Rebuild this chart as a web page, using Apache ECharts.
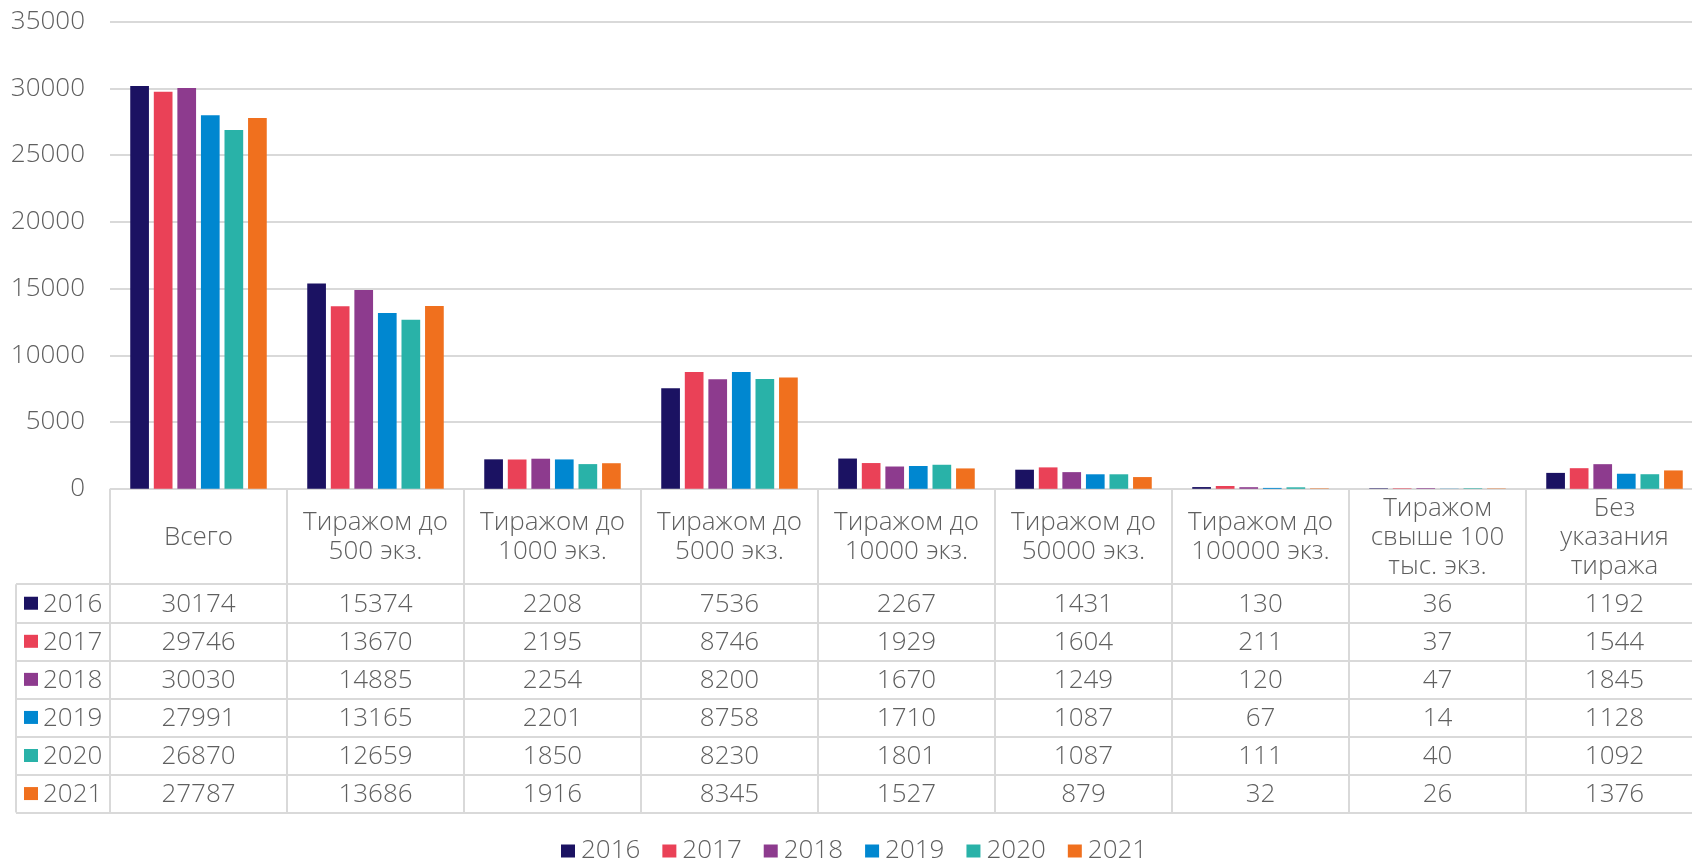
<!DOCTYPE html>
<html>
<head>
<meta charset="utf-8">
<script src="https://cdn.jsdelivr.net/npm/echarts@6/dist/echarts.min.js"></script>
<style>
html,body{margin:0;padding:0;background:#fff;}
#chart{width:1692px;height:859px;}
</style>
</head>
<body>
<div id="chart"></div>
<script>
// ---- data ----
const categories = [
  'Всего',
  'Тиражом до\n500 экз.',
  'Тиражом до\n1000 экз.',
  'Тиражом до\n5000 экз.',
  'Тиражом до\n10000 экз.',
  'Тиражом до\n50000 экз.',
  'Тиражом до\n100000 экз.',
  'Тиражом\nсвыше 100\nтыс. экз.',
  'Без\nуказания\nтиража'
];
const years = ['2016', '2017', '2018', '2019', '2020', '2021'];
const v2016 = [30174, 15374, 2208, 7536, 2267, 1431, 130, 36, 1192];
const v2017 = [29746, 13670, 2195, 8746, 1929, 1604, 211, 37, 1544];
const v2018 = [30030, 14885, 2254, 8200, 1670, 1249, 120, 47, 1845];
const v2019 = [27991, 13165, 2201, 8758, 1710, 1087, 67, 14, 1128];
const v2020 = [26870, 12659, 1850, 8230, 1801, 1087, 111, 40, 1092];
const v2021 = [27787, 13686, 1916, 8345, 1527, 879, 32, 26, 1376];
const yTicks = [0, 5000, 10000, 15000, 20000, 25000, 30000, 35000];

const seriesValues = [v2016, v2017, v2018, v2019, v2020, v2021];
const colors = ['#1B1262', '#EA4157', '#8D3B8E', '#0087D0', '#29B2A8', '#F0701E'];

const FONT = '"Open Sans", "DejaVu Sans", sans-serif';
const FS = 26;
const TXT = '#5f5f5f';
const LINE = '#D9D9D9';

const chartLeft = 110, chartWidth = 1593;
const plotTop = 21.6, zeroY = 488.8, headerBottom = 584.2, tableBottom = 812.6;

const cells = [];
seriesValues.forEach((arr, r) => arr.forEach((v, c) => cells.push([c, r, v])));

const rich = { t: { fontFamily: FONT, fontWeight: 300, fontSize: FS, color: TXT, padding: [2, 0, 0, 5] } };
colors.forEach((c, i) => { rich['s' + i] = { width: 14, height: 13, backgroundColor: c }; });

const gridBase = { outerBoundsMode: 'none', containLabel: false };

const chart = echarts.init(document.getElementById('chart'), null, { renderer: 'canvas' });
const option = {
  animation: false,
  backgroundColor: '#fff',
  textStyle: { fontFamily: FONT },
  grid: [
    Object.assign({ left: chartLeft, top: plotTop, width: chartWidth, height: zeroY - plotTop }, gridBase),
    Object.assign({ left: chartLeft, top: zeroY, width: chartWidth, height: headerBottom - zeroY }, gridBase),
    Object.assign({ left: chartLeft, top: headerBottom, width: chartWidth, height: tableBottom - headerBottom }, gridBase),
    Object.assign({ left: 16, top: headerBottom, width: chartLeft - 16, height: tableBottom - headerBottom }, gridBase)
  ],
  xAxis: [
    { gridIndex: 0, type: 'category', data: categories,
      axisLine: { show: false }, axisTick: { show: false },
      axisLabel: { interval: 0, margin: (headerBottom - zeroY) / 2 + 1, verticalAlign: 'middle',
        fontFamily: FONT, fontWeight: 300, fontSize: FS, lineHeight: 29, color: TXT, align: 'center' } },
    { gridIndex: 1, type: 'category', data: categories, axisLine: { show: false }, axisTick: { show: false }, axisLabel: { show: false },
      splitLine: { show: true, interval: 0, lineStyle: { color: LINE, width: 2 } } },
    { gridIndex: 2, type: 'category', data: categories, axisLine: { show: false }, axisTick: { show: false }, axisLabel: { show: false },
      splitLine: { show: true, interval: 0, lineStyle: { color: LINE, width: 2 } } },
    { gridIndex: 3, type: 'category', data: [''], axisLine: { show: false }, axisTick: { show: false }, axisLabel: { show: false },
      splitLine: { show: true, interval: 0, lineStyle: { color: LINE, width: 2 } } }
  ],
  yAxis: [
    { gridIndex: 0, type: 'value', min: yTicks[0], max: yTicks[yTicks.length - 1], interval: yTicks[1] - yTicks[0],
      axisLine: { show: false }, axisTick: { show: false },
      axisLabel: { margin: 25, fontFamily: FONT, fontWeight: 300, fontSize: FS, color: TXT, formatter: v => String(v) },
      splitLine: { show: true, lineStyle: { color: LINE, width: 2 } } },
    { gridIndex: 1, type: 'category', data: [''], axisLine: { show: false }, axisTick: { show: false }, axisLabel: { show: false },
      splitLine: { show: true, interval: 0, lineStyle: { color: LINE, width: 2 } } },
    { gridIndex: 2, type: 'category', data: years, inverse: true, axisLine: { show: false }, axisTick: { show: false }, axisLabel: { show: false },
      splitLine: { show: true, interval: 0, lineStyle: { color: LINE, width: 2 } } },
    { gridIndex: 3, type: 'category', data: years, inverse: true, axisLine: { show: false }, axisTick: { show: false },
      axisLabel: { inside: true, margin: 8, interval: 0, align: 'left',
        formatter: (v, i) => '{s' + i + '|}{t|' + v + '}', rich: rich },
      splitLine: { show: true, interval: 0, lineStyle: { color: LINE, width: 2 } } }
  ],
  legend: {
    data: years,
    left: 556, top: 833,
    icon: 'rect', itemWidth: 14, itemHeight: 13, itemGap: 22,
    textStyle: { fontFamily: FONT, fontWeight: 300, fontSize: FS, color: TXT, padding: [2, 0, 0, 1] }
  },
  series: years.map((y, i) => ({
    name: y, type: 'bar', xAxisIndex: 0, yAxisIndex: 0,
    data: seriesValues[i], barWidth: 18.7, barGap: '26%',
    itemStyle: { color: colors[i] }
  })).concat([{
    type: 'custom', name: 'table', xAxisIndex: 2, yAxisIndex: 2,
    data: cells, encode: { x: 0, y: 1 }, silent: true,
    renderItem: (params, api) => {
      const p = api.coord([api.value(0), api.value(1)]);
      return { type: 'text', style: { text: String(api.value(2)), x: p[0], y: p[1] + 1.5, align: 'center', verticalAlign: 'middle',
        font: '300 ' + FS + 'px ' + FONT, fill: TXT } };
    }
  }])
};
chart.setOption(option);
</script>
</body>
</html>
